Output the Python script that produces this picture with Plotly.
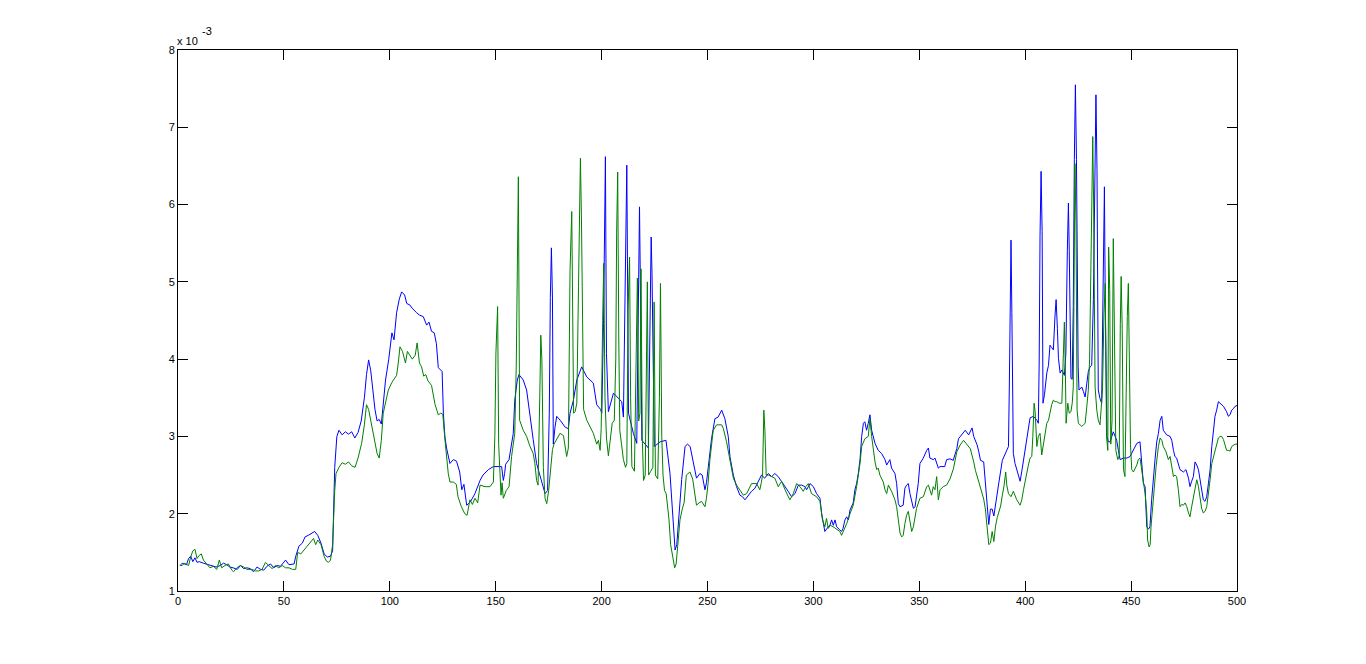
import plotly.graph_objects as go

# values in units of 1e-3 (the axis shows "x 10^-3")
blue_series = [
(1,1.33),(2,1.36),(3,1.35),(4,1.34),(5,1.42),(6,1.45),(7,1.38),(8,1.43),(9,1.37),(10,1.38),(12,1.36),(14,1.34),(16,1.33),(18,1.31),(20,1.33),(21.5,1.36),(23,1.34),(24.5,1.31),(26,1.30),(28,1.28),(29.5,1.33),(31,1.29),(32.5,1.30),(34,1.29),(35.7,1.25),(37.3,1.31),(39,1.28),(40.5,1.27),(42,1.32),(43.7,1.35),(45.2,1.30),(46.8,1.33),(48.4,1.32),(50.8,1.40),(52.4,1.34),(54.8,1.35),(55.6,1.45),(57.1,1.58),(58.7,1.62),(60,1.70),(61.5,1.72),(63,1.75),(64.5,1.77),(66,1.72),(67.5,1.62),(69,1.48),(70.5,1.44),(72,1.45),(73,1.52),(74,2.6),(75,3.0),(76,3.08),(77.5,3.02),(79,3.06),(80.5,3.03),(82,3.06),(83.5,2.98),(85,3.05),(86.5,3.2),(88,3.5),(89,3.8),(90,3.99),(91,3.85),(92,3.6),(93,3.35),(94,3.2),(95,3.22),(96,3.16),(97,3.5),(98,3.73),(99.5,4.0),(101,4.34),(102,4.25),(103.2,4.6),(104.5,4.78),(105.6,4.87),(107,4.83),(108,4.72),(109.5,4.7),(110.5,4.66),(112.7,4.6),(114,4.57),(115.8,4.55),(116.5,4.5),(117.4,4.44),(118.5,4.48),(119.7,4.36),(121,4.34),(122,4.2),(122.9,3.89),(124.7,3.84),(125.3,3.3),(126,3.0),(126.8,2.85),(128.4,2.65),(130,2.7),(131.5,2.68),(133,2.54),(134,2.31),(135,2.38),(136.3,2.11),(138,2.15),(140.2,2.26),(142.6,2.43),(144,2.5),(146.5,2.57),(148.9,2.61),(152.8,2.61),(153.6,2.43),(154.2,2.52),(154.7,2.64),(156.3,2.7),(158.3,3.04),(159,3.47),(160.2,3.73),(161,3.8),(163,3.73),(164.6,3.6),(166.2,3.3),(167.7,2.96),(169.3,2.65),(171.7,2.43),(173.3,2.26),(174.5,2.3),(175.3,3.3),(175.8,4.8),(176.3,5.44),(176.8,4.79),(177.2,2.9),(178,3.12),(178.8,3.26),(180.4,3.21),(182.8,3.12),(184.3,3.10),(185.1,3.30),(186.7,3.47),(188.3,3.73),(190.6,3.90),(193,3.77),(196.1,3.69),(197.7,3.41),(199.5,3.35),(200.1,3.30),(200.9,4.46),(201.3,5.76),(201.8,6.62),(202.3,4.07),(203.2,3.32),(205.6,3.56),(209.5,3.45),(210.3,3.25),(211.6,5.67),(211.9,6.51),(212.7,3.30),(215,3.04),(216.6,2.91),(217.4,5.2),(217.9,5.97),(218.5,4.5),(219,2.95),(222.1,2.85),(222.9,4.29),(223.4,5.58),(223.8,5.11),(224.5,3.47),(224.9,2.87),(227.6,2.93),(230.4,2.95),(232.3,2.52),(233.3,2.1),(234.2,1.75),(234.7,1.53),(235.5,1.6),(236.3,1.92),(237.8,2.44),(239.4,2.87),(240.5,2.9),(241.8,2.87),(243.3,2.65),(244.8,2.46),(246.4,2.52),(247.5,2.5),(248.8,2.31),(249.5,2.4),(250.4,2.61),(251.1,2.82),(251.9,2.97),(253.5,3.23),(255,3.25),(256.7,3.34),(258.2,3.23),(259.8,3.0),(260.6,2.74),(262.2,2.5),(263.7,2.35),(265.3,2.24),(266.5,2.22),(267.7,2.18),(269.2,2.24),(270.8,2.29),(272.4,2.33),(274,2.42),(275.5,2.5),(277,2.46),(278.7,2.52),(280.3,2.48),(281.8,2.52),(283.4,2.48),(285,2.42),(286.6,2.35),(288.1,2.29),(289.7,2.22),(291.3,2.26),(292.9,2.37),(294.5,2.37),(296,2.35),(296.8,2.31),(298.4,2.39),(300,2.35),(301.5,2.26),(303.1,2.2),(303.9,2.0),(304.7,1.87),(305.4,1.77),(307,1.83),(307.8,1.85),(308.6,1.92),(309.4,1.85),(310.2,1.92),(311,1.83),(312.5,1.79),(313.3,1.77),(314,1.81),(314.9,1.92),(315.7,1.96),(316.5,1.92),(317.3,2.05),(318.8,2.14),(319.6,2.31),(320.4,2.39),(321.2,2.52),(322,2.7),(322.8,3.0),(323.6,3.17),(324.3,3.19),(325.1,3.08),(325.9,3.17),(326.7,3.28),(327.5,3.08),(328.3,3.0),(329.1,2.91),(330.6,2.82),(332.2,2.78),(333.8,2.7),(334.6,2.63),(336.1,2.7),(336.9,2.59),(338.5,2.52),(339.3,2.39),(340.1,2.13),(340.9,2.09),(342.4,2.11),(343.2,2.33),(344,2.37),(344.8,2.39),(345.6,2.26),(346.4,2.16),(347.2,2.07),(348,2.09),(348.7,2.22),(349.5,2.39),(350.3,2.65),(351.9,2.72),(353.5,2.82),(354.3,2.85),(355,2.72),(356.6,2.7),(357.4,2.72),(358.2,2.65),(359,2.59),(359.8,2.61),(360.5,2.61),(362,2.61),(362.9,2.7),(364.5,2.71),(366,2.69),(366.9,2.76),(367.7,2.84),(368.5,2.97),(370.1,3.02),(371.7,3.08),(373.3,3.02),(374.9,3.11),(375.7,3.0),(377.3,2.89),(378.1,2.8),(378.9,2.69),(380.4,2.67),(381.2,2.41),(382,2.06),(382.8,1.86),(383.6,2.06),(384.4,2.06),(385.2,1.97),(386.8,2.23),(387.6,2.41),(389.2,2.69),(390.5,2.78),(392.1,2.87),(392.5,3.64),(392.9,4.87),(393.3,5.54),(393.7,4.6),(394,3.39),(394.4,2.78),(395.2,2.65),(396.8,2.48),(397.6,2.42),(398.4,2.55),(399.2,2.69),(400.7,2.93),(401.5,3.06),(402.3,3.24),(403.9,3.26),(405.5,3.21),(406.2,3.17),(406.6,3.95),(407,5.59),(407.5,6.43),(408,5.65),(408.4,3.43),(409.1,3.54),(410.2,3.82),(411,3.92),(411.7,4.18),(412.5,4.15),(413.3,4.12),(414.1,4.57),(414.6,4.77),(415.2,4.4),(415.7,4.01),(416.5,3.82),(417.3,3.86),(418.5,3.79),(419.2,4.07),(419.9,5.41),(420.4,6.02),(420.8,5.4),(421.2,4.2),(421.6,3.75),(422.2,3.74),(422.7,4.68),(423.2,6.58),(423.7,7.55),(424.2,6.58),(424.6,4.59),(425,3.9),(425.4,3.6),(426.7,3.64),(427.5,3.58),(428.3,3.51),(429.1,3.69),(429.8,3.84),(430.6,3.9),(431.4,3.92),(432.2,4.77),(433,6.53),(433.4,7.42),(433.9,6.45),(434.2,4.59),(434.5,3.6),(435.3,3.49),(436.1,3.43),(436.4,4.12),(436.9,5.5),(437.4,6.23),(437.8,4.72),(438.2,3.43),(438.6,3.0),(439.3,2.93),(440.1,2.93),(441.6,3.06),(443.2,2.95),(444,2.82),(444.8,2.7),(446.4,2.72),(448,2.72),(449.5,2.74),(451.1,2.82),(452.7,2.91),(454.2,2.93),(455,2.65),(455.8,2.39),(456.6,2.35),(457.4,1.83),(458.2,1.8),(458.9,1.83),(459.7,2.18),(460.5,2.48),(461.3,2.7),(462.1,2.93),(462.9,3.04),(463.7,3.21),(464.5,3.26),(465.2,3.08),(466,3.04),(466.8,3.02),(468.4,3.0),(469.2,2.95),(470,2.82),(470.7,2.74),(471.5,2.72),(472.3,2.63),(473.1,2.57),(474.7,2.54),(475.9,2.57),(477.1,2.46),(477.8,2.35),(478.6,2.42),(479.4,2.48),(480.2,2.67),(481,2.63),(481.8,2.57),(482.6,2.44),(483.3,2.31),(484.1,2.18),(484.9,2.16),(485.7,2.22),(486.5,2.39),(487.3,2.57),(488.1,2.87),(488.9,3.13),(489.6,3.26),(490.4,3.34),(491.2,3.45),(492,3.43),(492.8,3.41),(493.6,3.39),(495.1,3.32),(495.9,3.26),(496.7,3.28),(497.5,3.34),(498.3,3.36),(499.1,3.39),(500,3.4)]

green_series = [
(1,1.33),(2,1.33),(3,1.36),(4,1.35),(5,1.33),(6,1.44),(7,1.52),(8,1.54),(9,1.42),(10,1.46),(11,1.48),(12,1.40),(13,1.37),(14,1.33),(15.1,1.30),(16.7,1.32),(18.3,1.28),(19.5,1.40),(20.6,1.30),(22.2,1.33),(23.8,1.35),(25.4,1.27),(26.2,1.25),(27.8,1.30),(29.4,1.33),(31,1.31),(32.5,1.28),(34.9,1.28),(36.5,1.26),(38.1,1.26),(39.7,1.28),(41.3,1.37),(42.9,1.33),(44.4,1.29),(46,1.33),(47.6,1.30),(49.2,1.33),(50.8,1.30),(52.4,1.30),(54,1.28),(55.6,1.28),(56.5,1.5),(58,1.48),(60,1.55),(62,1.62),(64,1.68),(65,1.6),(66,1.66),(67.5,1.6),(69,1.45),(70,1.39),(71,1.37),(72,1.40),(73,1.6),(74,2.3),(74.6,2.52),(76,2.6),(77.5,2.66),(79,2.64),(80.5,2.67),(82,2.62),(83.6,2.6),(85,2.72),(86.7,2.91),(88,3.15),(89,3.41),(90,3.35),(91,3.2),(92,3.05),(93,2.9),(94,2.78),(95,2.72),(96,2.95),(96.9,3.3),(98,3.45),(99.3,3.6),(101,3.7),(103.2,3.79),(104,3.95),(104.8,4.16),(106,4.1),(107.4,3.95),(108.3,4.1),(109.5,4.05),(110.6,4.0),(112,4.05),(112.9,4.21),(114,3.95),(115,3.9),(116,3.78),(117,3.8),(118,3.72),(119.7,3.66),(121.4,3.41),(122.9,3.28),(124,3.3),(125,3.29),(126,2.97),(126.8,2.69),(127.6,2.52),(128.4,2.41),(130,2.41),(131.4,2.38),(132.2,2.22),(133.8,2.09),(135.4,2.0),(136.5,1.98),(137.8,2.18),(139,2.12),(140.2,2.2),(141.5,2.14),(142.6,2.37),(145,2.35),(147.3,2.35),(148.9,2.41),(149.6,3.0),(150.1,4.08),(150.9,4.68),(151.4,2.9),(152,2.41),(152.5,2.24),(153,2.4),(153.6,2.2),(155,2.3),(156.3,2.35),(157.5,2.74),(159,3.04),(159.7,3.9),(160.2,5.54),(160.7,6.36),(161.3,3.21),(162,3.15),(163,3.08),(164.6,3.0),(166.2,2.87),(167.7,2.78),(168.5,2.65),(169.3,2.43),(170,2.37),(170.8,3.5),(171.3,4.31),(171.8,4.0),(172.5,2.6),(173.3,2.2),(174.1,2.13),(175,2.3),(175.9,2.57),(176.8,2.83),(177.5,2.9),(179.6,2.99),(180.4,3.04),(182,3.01),(182.8,2.87),(183.5,2.74),(184.3,2.85),(185.1,5.15),(185.9,5.91),(186.4,3.95),(186.8,3.3),(187.5,3.32),(188.3,3.43),(189.1,4.94),(189.5,6.06),(190,6.6),(190.5,5.8),(191,4.2),(191.5,3.35),(193,3.21),(194.5,3.13),(196.1,3.04),(197.7,2.9),(198.5,2.95),(199.3,2.82),(199.8,3.1),(200.5,4.5),(201,5.24),(201.6,3.5),(202.3,2.98),(203.2,2.75),(204.1,2.95),(205,3.17),(206,3.21),(206.7,4.0),(207.1,5.63),(207.6,6.42),(208.1,4.3),(208.6,3.08),(209.4,2.9),(210.3,2.7),(211.3,2.6),(211.9,2.65),(212.5,4.64),(213.2,5.32),(213.7,3.5),(214.3,2.61),(215.5,2.55),(216.3,4.4),(216.9,5.05),(217.5,3.2),(218.1,3.3),(218.6,5.17),(219.2,3.0),(219.8,2.43),(220.6,2.5),(221.6,5.0),(222.2,2.5),(223.2,2.55),(224.2,2.6),(224.8,4.74),(225.4,2.5),(226.5,2.45),(227.3,3.5),(227.8,4.98),(228.4,3.0),(229,2.5),(229.7,2.3),(230.5,2.26),(231.8,1.93),(232.6,1.6),(233.5,1.45),(234.5,1.3),(235.2,1.35),(236,1.6),(237,1.92),(238,2.05),(239,2.15),(240,2.5),(241.7,2.54),(243,2.45),(244.1,2.26),(244.8,2.11),(246,2.14),(247.2,2.16),(248.8,2.09),(249.5,2.2),(250.3,2.4),(251.1,2.69),(252.7,3.08),(254.3,3.15),(256.7,3.15),(257.5,3.1),(259,2.93),(260.6,2.69),(262.2,2.46),(263.7,2.37),(265.3,2.31),(266.9,2.24),(268.5,2.26),(270.8,2.39),(273.2,2.39),(274.7,2.31),(275.4,2.4),(276,2.5),(276.6,3.34),(277.1,3.08),(277.7,2.5),(278.7,2.5),(280.3,2.48),(281.8,2.46),(283.4,2.35),(285,2.42),(286.6,2.31),(288,2.24),(288.9,2.18),(290.5,2.26),(292.1,2.39),(293.7,2.35),(295.2,2.29),(296.4,2.35),(297.6,2.39),(299.1,2.26),(300.7,2.24),(301.5,2.22),(303.1,2.16),(304.3,1.92),(305.4,1.83),(306.2,1.94),(307,1.81),(308,1.85),(309.4,1.83),(311,1.8),(312.5,1.77),(313.3,1.72),(314.1,1.77),(315.7,1.87),(317.3,2.0),(318.8,2.11),(320.4,2.35),(322,2.65),(322.8,2.87),(324.3,2.97),(325.9,3.0),(326.7,3.23),(327.5,3.0),(328.3,2.82),(329.1,2.67),(329.9,2.57),(330.6,2.59),(331.4,2.5),(333,2.41),(333.8,2.31),(334.6,2.26),(335.4,2.37),(336.9,2.29),(338.5,2.18),(339.3,2.09),(340.1,1.92),(340.9,1.75),(341.7,1.7),(342.4,1.72),(343.2,1.87),(344,1.98),(344.8,2.03),(345.6,1.87),(346.4,1.77),(347.2,1.83),(348,1.96),(348.7,2.07),(350.3,2.2),(351.9,2.22),(353.5,2.35),(354.3,2.37),(355.8,2.24),(356.6,2.35),(357.4,2.31),(358.2,2.48),(359,2.18),(359.8,2.31),(361.3,2.35),(362.9,2.37),(364.5,2.45),(366.1,2.58),(367.7,2.8),(369.3,2.89),(370.9,2.95),(372.5,2.89),(374.1,2.84),(375.7,2.67),(376.5,2.56),(378.1,2.41),(379.7,2.25),(380.4,2.19),(381.2,2.06),(382,1.84),(382.8,1.6),(383.6,1.62),(384.4,1.77),(385.2,1.64),(386,1.84),(386.8,1.95),(388.4,2.1),(389.2,2.24),(390,2.36),(390.8,2.54),(391.3,2.37),(392.1,2.26),(393.3,2.22),(394.4,2.29),(396,2.18),(397.6,2.11),(398.4,2.18),(399.2,2.31),(399.9,2.42),(400.7,2.52),(401.5,2.63),(402.3,2.72),(403.1,2.74),(403.6,3.0),(404.2,3.43),(404.7,3.32),(405.5,2.87),(406.2,3.0),(407,3.04),(407.8,2.76),(408.6,2.91),(409.4,3.04),(410.2,3.17),(411,3.21),(411.7,3.32),(412.5,3.41),(413.3,3.47),(414.1,3.45),(414.9,3.45),(416,3.43),(417.3,3.43),(417.6,3.77),(418,4.23),(418.5,4.48),(419,3.8),(419.3,3.17),(420.1,3.43),(420.8,3.3),(421.6,3.32),(422.2,3.43),(422.7,3.64),(423,4.89),(423.5,6.53),(424,5.71),(424.5,3.34),(425.1,3.17),(426.7,3.13),(427.5,3.15),(428.3,3.17),(429.1,3.39),(429.8,3.6),(430.4,3.99),(430.9,5.15),(431.4,6.27),(431.9,6.88),(432.3,6.02),(432.7,4.77),(433,3.64),(433.8,3.34),(434.5,3.21),(435.3,3.15),(436.5,3.6),(437.2,4.6),(437.8,4.98),(438.4,3.0),(439,2.82),(439.4,5.45),(439.9,4.9),(440.4,2.9),(441,3.2),(441.6,5.56),(442.2,4.4),(442.8,2.82),(443.7,2.7),(444.4,2.75),(444.9,4.45),(445.3,5.07),(445.8,4.4),(446.4,2.57),(447.1,2.48),(447.7,4.0),(448.2,4.55),(448.7,4.98),(449.2,4.0),(449.7,2.9),(450.3,2.57),(451.1,2.54),(452.7,2.63),(453.4,2.7),(454.2,2.72),(455,2.57),(455.8,2.39),(456.6,2.26),(457.4,2.01),(457.8,1.66),(458.5,1.57),(459,1.6),(459.4,1.83),(460.2,2.09),(460.8,2.35),(461.8,2.61),(462.9,2.87),(463.7,2.98),(464.5,2.95),(465.2,2.87),(466.5,2.8),(467.6,2.7),(468.4,2.74),(469.2,2.61),(470,2.48),(470.7,2.5),(471.5,2.48),(472.3,2.31),(473.1,2.09),(473.9,2.12),(474.7,2.11),(475.5,2.14),(476.3,2.09),(477.1,2.01),(477.8,1.96),(478.6,2.09),(479.4,2.2),(480.2,2.31),(481,2.44),(481.8,2.35),(482.6,2.22),(483.3,2.07),(484.1,2.01),(484.9,2.03),(485.7,2.09),(486.5,2.24),(487.3,2.44),(488.1,2.65),(488.9,2.74),(489.6,2.82),(490.4,2.93),(491.2,2.98),(492,3.0),(492.8,3.0),(493.6,2.96),(494.4,2.89),(495.1,2.82),(495.9,2.82),(496.7,2.81),(497.5,2.87),(498.3,2.88),(499.1,2.9),(500,2.9)]

x_ticks = [0, 50, 100, 150, 200, 250, 300, 350, 400, 450, 500]
y_ticks = [1, 2, 3, 4, 5, 6, 7, 8]

blue_x = [p[0] for p in blue_series]
blue_y = [p[1] for p in blue_series]
green_x = [p[0] for p in green_series]
green_y = [p[1] for p in green_series]

FONT = "Liberation Sans, Arial, sans-serif"

fig = go.Figure()
fig.add_trace(go.Scatter(x=blue_x, y=blue_y, mode="lines",
                         line=dict(color="rgb(0,0,255)", width=1), hoverinfo="skip"))
fig.add_trace(go.Scatter(x=green_x, y=green_y, mode="lines",
                         line=dict(color="rgb(0,128,0)", width=1), hoverinfo="skip"))

axis_common = dict(showgrid=False, zeroline=False, showline=True, linecolor="black",
                   linewidth=1, mirror="ticks", ticks="inside", ticklen=10,
                   tickcolor="black", tickwidth=1,
                   tickfont=dict(family=FONT, size=11, color="black"))

fig.update_xaxes(range=[0, 500], tickmode="array", tickvals=x_ticks,
                 ticktext=[str(v) for v in x_ticks], **axis_common)
fig.update_yaxes(range=[1, 8], tickmode="array", tickvals=y_ticks,
                 ticktext=[str(v) for v in y_ticks], **axis_common)

# exponent label "x 10^-3" above the top-left corner
fig.add_annotation(xref="paper", yref="paper", x=0, y=1.0, xanchor="left", yanchor="bottom",
                   text="x 10", showarrow=False, xshift=-3, yshift=1,
                   font=dict(family=FONT, size=11, color="black"))
fig.add_annotation(xref="paper", yref="paper", x=0, y=1.0, xanchor="left", yanchor="bottom",
                   text="-3", showarrow=False, xshift=22, yshift=11,
                   font=dict(family=FONT, size=11, color="black"))

fig.update_layout(width=1366, height=664, margin=dict(l=170, r=137, t=42, b=81),
                  paper_bgcolor="white", plot_bgcolor="white", showlegend=False)

fig.write_html("out.html")
